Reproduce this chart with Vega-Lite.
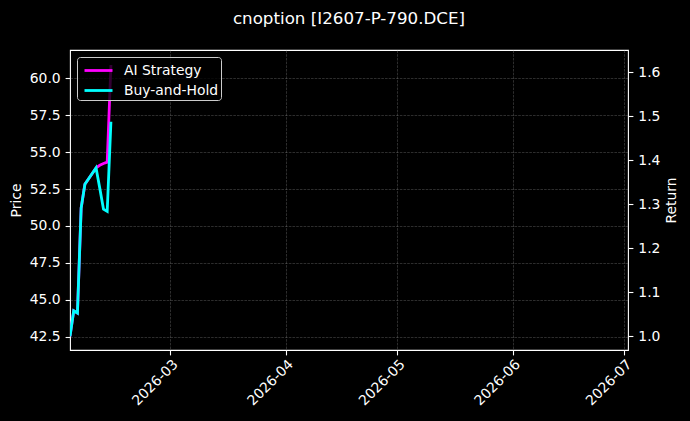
{
  "$schema": "https://vega.github.io/schema/vega-lite/v6.json",
  "description": "AI strategy vs buy-and-hold return for I2607-P-790.DCE",
  "width": 558,
  "height": 300,
  "autosize": {"type": "none"},
  "padding": {"left": 70, "top": 50, "right": 62, "bottom": 71},
  "background": "#000000",
  "title": {
    "text": "cnoption [I2607-P-790.DCE]",
    "color": "#ffffff",
    "font": "DejaVu Sans",
    "fontSize": 16.7,
    "fontWeight": "normal",
    "anchor": "middle",
    "offset": 22
  },
  "data": {
    "values": [
      {"date": "2026-02-02T00:00:00", "series": "AI Strategy", "ret": 1.0},
      {"date": "2026-02-03T00:00:00", "series": "AI Strategy", "ret": 1.058},
      {"date": "2026-02-04T00:00:00", "series": "AI Strategy", "ret": 1.053},
      {"date": "2026-02-05T00:00:00", "series": "AI Strategy", "ret": 1.292},
      {"date": "2026-02-06T00:00:00", "series": "AI Strategy", "ret": 1.346},
      {"date": "2026-02-09T00:00:00", "series": "AI Strategy", "ret": 1.383},
      {"date": "2026-02-10T00:00:00", "series": "AI Strategy", "ret": 1.389},
      {"date": "2026-02-11T00:00:00", "series": "AI Strategy", "ret": 1.393},
      {"date": "2026-02-12T00:00:00", "series": "AI Strategy", "ret": 1.396},
      {"date": "2026-02-13T00:00:00", "series": "AI Strategy", "ret": 1.617},
      {"date": "2026-02-02T00:00:00", "series": "Buy-and-Hold", "ret": 1.0},
      {"date": "2026-02-03T00:00:00", "series": "Buy-and-Hold", "ret": 1.058},
      {"date": "2026-02-04T00:00:00", "series": "Buy-and-Hold", "ret": 1.053},
      {"date": "2026-02-05T00:00:00", "series": "Buy-and-Hold", "ret": 1.292},
      {"date": "2026-02-06T00:00:00", "series": "Buy-and-Hold", "ret": 1.346},
      {"date": "2026-02-09T00:00:00", "series": "Buy-and-Hold", "ret": 1.383},
      {"date": "2026-02-10T00:00:00", "series": "Buy-and-Hold", "ret": 1.337},
      {"date": "2026-02-11T00:00:00", "series": "Buy-and-Hold", "ret": 1.289},
      {"date": "2026-02-12T00:00:00", "series": "Buy-and-Hold", "ret": 1.284},
      {"date": "2026-02-13T00:00:00", "series": "Buy-and-Hold", "ret": 1.488}
    ]
  },
  "encoding": {
    "x": {
      "field": "date",
      "type": "temporal",
      "scale": {
        "domain": [
          {"year": 2026, "month": 2, "date": 2},
          {"year": 2026, "month": 7, "date": 2}
        ],
        "nice": false
      },
      "axis": {
        "title": null,
        "format": "%Y-%m",
        "values": [
          {"year": 2026, "month": 3, "date": 1},
          {"year": 2026, "month": 4, "date": 1},
          {"year": 2026, "month": 5, "date": 1},
          {"year": 2026, "month": 6, "date": 1},
          {"year": 2026, "month": 7, "date": 1}
        ],
        "labelAngle": -45,
        "labelAlign": "right",
        "labelBaseline": "top",
        "labelPadding": 2
      }
    }
  },
  "layer": [
    {
      "mark": {"type": "line", "opacity": 0, "clip": true},
      "encoding": {
        "y": {
          "field": "ret",
          "type": "quantitative",
          "scale": {"domain": [41.6, 61.92], "nice": false, "zero": false},
          "axis": {
            "orient": "left",
            "title": "Price",
            "values": [42.5, 45, 47.5, 50, 52.5, 55, 57.5, 60],
            "format": ".1f",
            "titlePadding": 6
          }
        },
        "detail": {"field": "series"}
      }
    },
    {
      "mark": {"type": "line", "strokeWidth": 2.8, "clip": true},
      "encoding": {
        "y": {
          "field": "ret",
          "type": "quantitative",
          "scale": {"domain": [0.969, 1.651], "nice": false, "zero": false},
          "axis": {
            "orient": "right",
            "title": "Return",
            "values": [1.0, 1.1, 1.2, 1.3, 1.4, 1.5, 1.6],
            "format": ".1f",
            "titleAngle": 270,
            "titleBaseline": "top",
            "titlePadding": 5
          }
        },
        "color": {
          "field": "series",
          "type": "nominal",
          "scale": {
            "domain": ["AI Strategy", "Buy-and-Hold"],
            "range": ["#ff00ff", "#00ffff"]
          },
          "legend": {
            "title": null,
            "orient": "none",
            "legendX": 7,
            "legendY": 7,
            "symbolType": "M-1.4,0H1.4",
            "symbolSize": 400,
            "symbolStrokeWidth": 2.8,
            "symbolOffset": 8,
            "labelFontSize": 13.9,
            "labelColor": "#ffffff",
            "labelFont": "DejaVu Sans",
            "labelOffset": 14,
            "fillColor": "rgba(0,0,0,0.8)",
            "strokeColor": "#cccccc",
            "cornerRadius": 3,
            "padding": 2,
            "rowPadding": 1
          }
        }
      }
    }
  ],
  "resolve": {"scale": {"y": "independent"}, "axis": {"y": "independent"}},
  "config": {
    "font": "DejaVu Sans",
    "view": {"stroke": "#ffffff", "strokeWidth": 1.1},
    "axis": {
      "labelColor": "#ffffff",
      "labelFont": "DejaVu Sans",
      "labelFontSize": 13.9,
      "titleColor": "#ffffff",
      "titleFont": "DejaVu Sans",
      "titleFontSize": 13.9,
      "titleFontWeight": "normal",
      "tickColor": "#ffffff",
      "tickSize": 4.9,
      "tickWidth": 1.1,
      "labelPadding": 4.9,
      "domain": false,
      "grid": true,
      "gridColor": "#808080",
      "gridOpacity": 0.5,
      "gridDash": [2.6, 1.1],
      "gridWidth": 0.7
    }
  }
}
